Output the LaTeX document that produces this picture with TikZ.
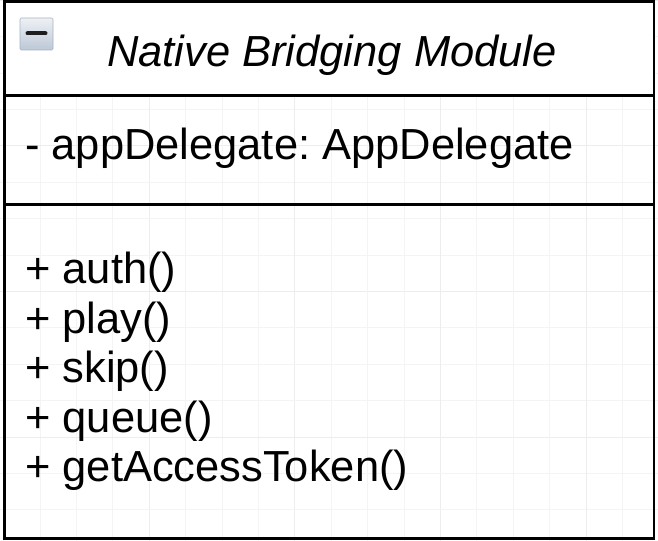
\documentclass[tikz,border=0pt]{standalone}
\usepackage{fontspec}
\setmainfont{Liberation Sans}
\usepackage{xcolor}
\usetikzlibrary{positioning}
\frenchspacing
\definecolor{gridminor}{HTML}{F4F4F4}
\definecolor{gridmajor}{HTML}{EDEDED}
\definecolor{iconedge}{HTML}{A8B4C2}
\definecolor{icontop}{HTML}{EEF1F5}
\definecolor{iconbottom}{HTML}{BCC8D6}
\definecolor{iconbar}{HTML}{1E1E1E}

\begin{document}
\begin{tikzpicture}[x=0.75pt,y=-0.75pt,
  umltext/.style={inner sep=0pt, font=\fontsize{32.6}{37.5}\selectfont},
  boxline/.style={line width=2.2pt, black}]
\useasboundingbox (0,0) rectangle (658,541);

% Background grid
\foreach \i in {0,...,18} {
  \pgfmathtruncatemacro{\maj}{mod(\i,4)==0}
  \ifnum\maj=1 \def\gc{gridmajor}\else \def\gc{gridminor}\fi
  \draw[\gc, line width=0.75pt] ({3.6+36.4*\i},0) -- ({3.6+36.4*\i},541);
  \draw[\gc, line width=0.75pt] (0,{0.4+36.4*\i}) -- (658,{0.4+36.4*\i});
}

% Class box
\coordinate (tl) at (4.5,1.5);
\coordinate (br) at (654,538.5);
\fill[white] (tl) rectangle (654,95.5);
\draw[black, line width=1.8pt] (4.5,95.5) -- (654,95.5);
\draw[black, line width=1.8pt] (4.5,204.5) -- (654,204.5);
\draw[boxline] (tl) rectangle (br);

% Collapse icon
\draw[iconedge, top color=icontop, bottom color=iconbottom, rounded corners=1pt]
  (20,18) rectangle (53,50);
\draw[iconbar, line width=3pt, line cap=round] (27.5,33.5) -- (45.5,33.5);

% Texts
\node[umltext, anchor=base] (title) at (332,67) {\itshape Native Bridging Module};
\node[umltext, anchor=base west] (attr) at (25,160) {- appDelegate: AppDelegate};
\foreach \m [count=\k] in {auth(), play(), skip(), queue(), getAccessToken()}
  \node[umltext, anchor=base west] (m\k) at (25,{283.5+49.6*(\k-1)}) {+ \m};

\end{tikzpicture}
\end{document}
